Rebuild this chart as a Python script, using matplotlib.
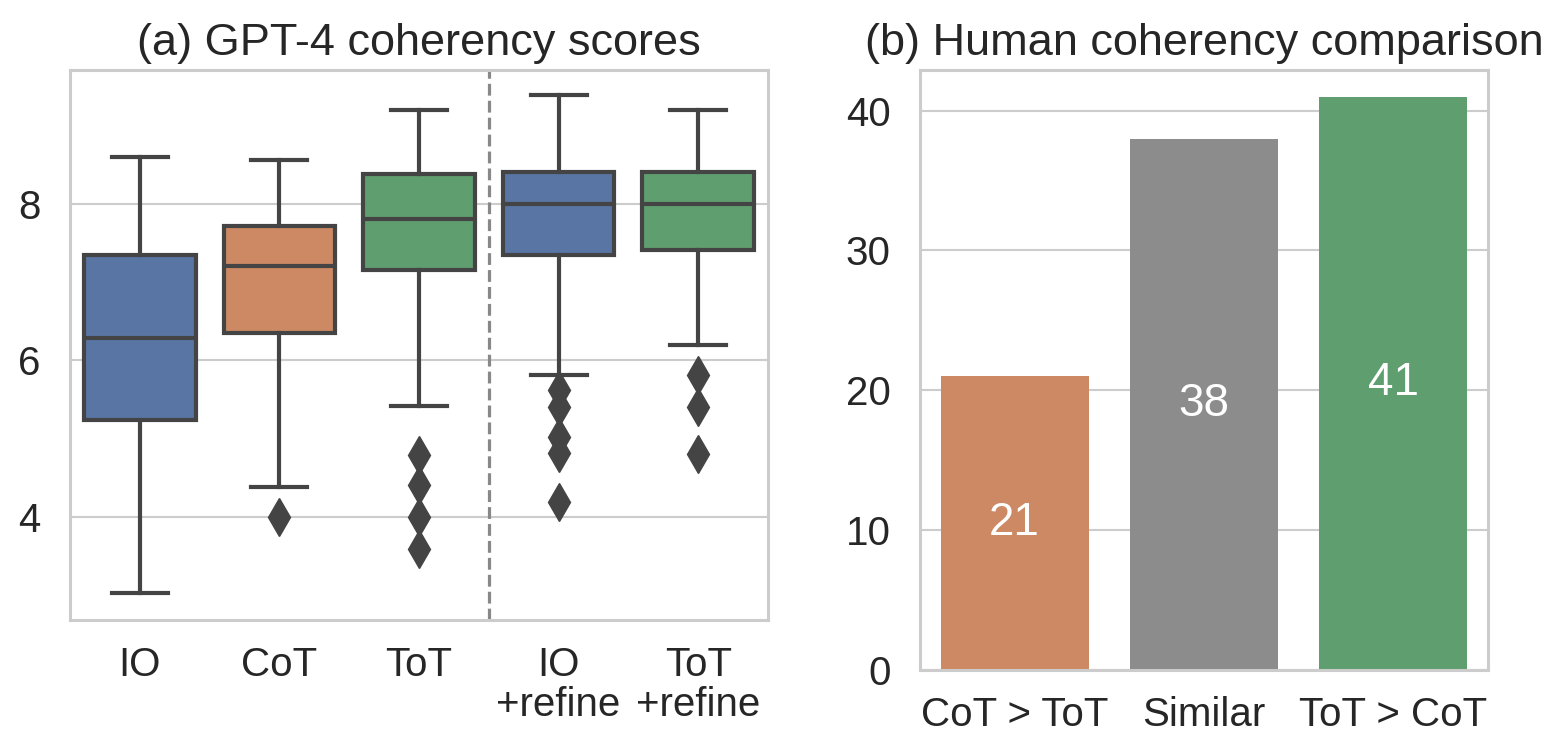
import colorsys
import matplotlib
matplotlib.use("Agg")
import matplotlib.pyplot as plt
from matplotlib import colors as mcolors

# ---------------- data ----------------
methods = ["IO", "CoT", "ToT", "IO\n+refine", "ToT\n+refine"]
whisker_low = [3.03, 4.38, 5.41, 5.81, 6.20]
q1 = [5.24, 6.35, 7.16, 7.35, 7.41]
medians = [6.28, 7.21, 7.81, 8.00, 8.00]
q3 = [7.35, 7.71, 8.38, 8.40, 8.40]
whisker_high = [8.60, 8.56, 9.20, 9.39, 9.20]
outliers = [[], [4.0], [4.79, 4.40, 4.0, 3.59],
            [5.62, 5.40, 5.02, 4.81, 4.19], [5.81, 5.40, 4.80]]
box_colors = ["#4C72B0", "#DD8452", "#55A868", "#4C72B0", "#55A868"]

comparisons = ["CoT > ToT", "Similar", "ToT > CoT"]
counts = [21, 38, 41]
bar_colors = ["#DD8452", "#8C8C8C", "#55A868"]


def desaturate(c, prop=0.75):
    r, g, b = mcolors.to_rgb(c)
    h, l, s = colorsys.rgb_to_hls(r, g, b)
    return colorsys.hls_to_rgb(h, l, s * prop)


plt.rcParams["font.family"] = ["Liberation Sans", "DejaVu Sans"]
TEXT = "#262626"
EDGE = "#444444"
SPINE = "#cccccc"

fig = plt.figure(figsize=(15.49, 7.41), dpi=100)
ax1 = fig.add_axes([70 / 1549, 121 / 741, 698 / 1549, 550 / 741])
ax2 = fig.add_axes([920 / 1549, 71 / 741, 568 / 1549, 600 / 741])

# ---------------- panel (a) ----------------
stats = []
for i in range(len(methods)):
    stats.append(dict(med=medians[i], q1=q1[i], q3=q3[i],
                      whislo=whisker_low[i], whishi=whisker_high[i],
                      fliers=outliers[i]))
bp = ax1.bxp(stats, positions=range(len(methods)), widths=0.8,
             patch_artist=True, showfliers=True,
             boxprops=dict(edgecolor=EDGE, linewidth=3.0),
             whiskerprops=dict(color=EDGE, linewidth=3.0),
             capprops=dict(color=EDGE, linewidth=3.0),
             medianprops=dict(color=EDGE, linewidth=3.0),
             flierprops=dict(marker="d", markersize=19, markerfacecolor=EDGE,
                             markeredgecolor=EDGE, linestyle="none"))
for patch, c in zip(bp["boxes"], box_colors):
    patch.set_facecolor(desaturate(c))
    patch.set_zorder(2)

ax1.axvline(2.5, color="#888888", linestyle="--", linewidth=2.3, zorder=1)
ax1.set_xlim(-0.5, 4.5)
ax1.set_ylim(2.68, 9.71)
ax1.set_yticks([4, 6, 8])
ax1.set_xticks(range(len(methods)))
ax1.set_xticklabels(methods, linespacing=1.05)
ax1.set_title("(a) GPT-4 coherency scores", fontsize=32.5, color=TEXT, pad=11)

# ---------------- panel (b) ----------------
bars = ax2.bar(range(len(comparisons)), counts, width=0.78,
               color=[desaturate(c) for c in bar_colors], zorder=2)
ax2.bar_label(bars, labels=[str(c) for c in counts], label_type="center",
              color="white", fontsize=33)
ax2.set_xlim(-0.5, 2.5)
ax2.set_ylim(0, 42.9)
ax2.set_yticks([0, 10, 20, 30, 40])
ax2.set_xticks(range(len(comparisons)))
ax2.set_xticklabels(comparisons)
ax2.set_title("(b) Human coherency comparison", fontsize=32.5, color=TEXT, pad=11)

for ax in (ax1, ax2):
    ax.set_axisbelow(True)
    ax.grid(axis="y", color=SPINE, linewidth=1.5, zorder=0)
    ax.grid(axis="x", visible=False)
    for sp in ax.spines.values():
        sp.set_color(SPINE)
        sp.set_linewidth(2.2)
    ax.tick_params(axis="both", length=0, labelsize=29, colors=TEXT)
    ax.tick_params(axis="x", pad=19)
    ax.tick_params(axis="y", pad=21)
    ax.set_facecolor("white")

fig.savefig("out.png", dpi=100, facecolor="white")
